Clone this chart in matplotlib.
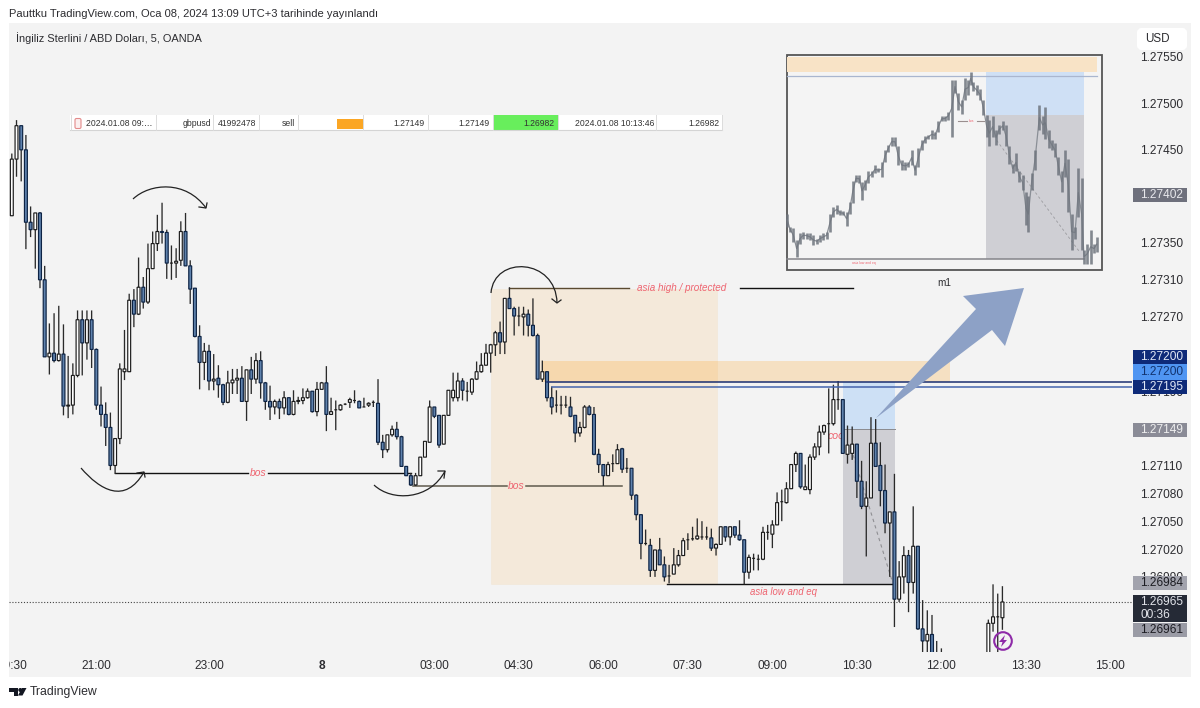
import matplotlib
matplotlib.use("Agg")
import matplotlib.pyplot as plt
from matplotlib.patches import Rectangle, FancyBboxPatch, Polygon, Circle, PathPatch
from matplotlib.path import Path

plt.rcParams["font.family"] = ["Liberation Sans", "DejaVu Sans"]

# 5 min candles, points above 1.27000 (1 point = 0.00001)
opens = [379,440,476,450,372,364,382,310,227,231,
         223,230,174,175,207,267,242,267,235,175,
         165,151,110,139,211,211,288,273,302,286,
         322,349,362,361,328,328,331,362,325,301,
         249,221,233,201,204,197,178,199,202,204,
         179,213,203,223,199,179,173,179,172,183,
         165,179,180,183,190,168,192,199,165,170,
         170,176,178,180,179,173,175,178,177,135,
         127,143,149,141,109,99,89,99,119,135,
         173,164,133,164,183,183,201,190,189,203,
         211,218,231,240,253,243,290,279,271,270,
         273,261,250,203,211,183,175,175,175,173,
         164,145,151,173,165,122,111,99,112,112,
         128,107,107,78,57,26,24,-3,19,3,
         -9,-7,3,13,30,31,31,33,33,32,
         21,25,44,33,44,35,30,-5,10,9,
         9,38,36,46,71,70,85,111,123,84,
         84,119,130,146,155,155,181,181,122,123,
         133,93,66,75,134,110,83,48,60,-34,
         -10,13,-16,23,-66,-79,-72,-95,-96,-105,
         -110,-112,-115,-118,-120,-118,-115,-108,-100,-60,-53,-54]
highs = [446,482,476,466,389,382,383,325,263,274,
         282,262,228,220,277,277,277,277,236,195,
         178,167,139,220,256,295,300,334,313,349,
         362,380,393,364,347,344,373,382,331,301,
         261,242,240,230,218,198,212,214,214,217,
         213,227,231,233,200,196,181,182,190,183,
         191,184,193,193,190,200,200,217,183,180,
         176,177,183,191,180,183,178,180,203,143,
         143,153,157,142,109,102,102,119,136,180,
         173,164,164,191,210,210,204,200,204,222,
         231,241,241,255,265,290,302,281,281,281,
         278,290,252,223,211,195,191,185,185,184,
         164,157,175,175,173,128,111,114,122,133,
         129,118,107,79,57,41,31,19,32,12,
         3,21,19,32,37,44,53,50,44,42,
         26,44,44,44,44,51,30,14,15,14,
         44,46,51,81,84,92,111,125,123,111,
         122,134,153,154,193,197,201,181,153,152,
         133,115,93,162,160,135,111,60,101,7,
         23,19,66,23,-35,-46,-51,-79,-87,-100,
         -104,-106,-108,-112,-114,-112,-108,-102,-56,-18,-28,-20]
lows = [379,421,416,343,356,322,301,227,208,221,
        222,164,161,165,205,207,224,215,170,152,
        131,105,101,133,202,211,259,272,279,284,
        322,341,349,311,310,312,325,325,284,248,
        192,202,191,191,183,175,177,187,187,179,
        158,187,198,182,170,159,165,160,165,164,
        164,176,176,182,167,163,192,147,165,148,
        169,175,172,177,172,173,173,173,132,118,
        124,141,138,109,99,88,88,99,119,135,
        161,129,133,164,179,179,180,179,186,202,
        210,218,210,228,230,230,279,250,260,250,
        249,249,203,200,179,165,167,165,172,162,
        135,141,150,164,121,102,88,99,103,112,
        102,102,73,51,9,24,-10,-10,3,-15,
        -17,-7,1,13,19,29,30,30,30,18,
        13,25,28,24,32,29,-18,-12,-3,-3,
        8,30,21,46,50,69,85,103,85,84,
        79,116,121,143,123,153,170,123,112,116,
        75,63,12,75,109,66,37,-10,-64,-37,
        -28,-48,-28,-67,-95,-95,-110,-110,-110,-118,
        -122,-124,-126,-128,-130,-128,-126,-120,-110,-69,-95,-67]
closes = [440,476,450,372,364,382,310,227,231,223,
          230,174,175,207,267,242,267,235,175,165,
          151,110,139,214,214,288,273,302,286,322,
          349,362,361,328,328,330,362,325,300,249,
          221,233,201,203,197,178,199,202,204,179,
          213,203,223,199,179,173,179,172,183,165,
          179,180,183,190,168,192,199,165,168,170,
          175,176,181,180,172,173,177,178,135,127,
          143,149,141,109,99,89,99,119,136,173,
          163,132,164,191,191,201,191,190,203,211,
          218,231,240,253,243,290,279,271,271,273,
          261,250,203,211,183,173,175,175,175,163,
          145,151,173,165,122,111,99,111,112,127,
          106,107,78,57,26,26,-3,19,3,-10,
          -9,3,13,29,30,31,34,33,33,21,
          25,44,33,44,35,30,-5,11,10,9,
          38,38,46,70,71,85,111,123,87,87,
          119,130,146,153,155,181,181,123,132,133,
          93,66,75,134,109,83,48,60,-34,-10,
          13,-16,23,-66,-79,-72,-95,-96,-97,-110,
          -112,-115,-118,-120,-118,-115,-108,-100,-60,-53,-53,-37]

# m1 picture in the corner: bar position, high, low
m1_times = [22,30,40,50,60,70,80,90,100,110,120,130,140,150,160,170,180,190,200,210,
            218,228,238,246,255,265,275,285,295,305,315,325,335,345,355,365,375,385,395,405,
            415,425,435,445,455,465,475,485,495,505,515,525,535,545,555,565,572,580,590,600,
            610,620,628,638,648,658,668,678,688,698,708,718,728,738,745,755,765,778,788,796,
            806,816,825,835,845,855,865,875,885,895,905,912,922,932,942,950]
m1_highs = [35,20,18,4,12,14,13,12,10,6,10,12,14,35,43,45,39,38,37,49,
            73,80,80,72,74,84,84,91,88,95,109,115,124,124,113,97,95,95,109,91,
            111,120,125,126,132,130,142,148,148,153,190,190,175,167,192,190,200,188,184,180,
            167,149,144,148,132,138,142,138,113,93,105,84,80,60,55,82,109,161,148,159,
            132,120,117,101,84,109,99,35,20,88,76,-7,0,16,0,8]
m1_lows = [20,14,2,-15,0,6,6,4,-1,0,2,4,6,14,31,35,33,33,21,35,
           47,72,71,51,62,71,78,82,83,78,95,107,113,113,91,86,86,89,91,80,
           89,109,117,122,122,122,130,142,143,144,124,175,155,151,167,173,184,177,173,167,
           149,124,113,124,115,128,132,113,93,82,84,72,62,22,14,62,86,132,128,122,
           111,109,101,80,60,78,37,-7,6,31,-7,-23,-23,-23,-11,-9]

# price scale labels and time labels
price_ticks = [1.27550, 1.27500, 1.27450, 1.27350, 1.27310, 1.27270, 1.27190,
               1.27110, 1.27080, 1.27050, 1.27020, 1.26990, 1.26930]
time_pos = [0, 18, 42, 66, 90, 108, 126, 144, 162, 180, 198, 216, 234]
time_labels = ["19:30", "21:00", "23:00", "8", "03:00", "04:30", "06:00", "07:30",
               "09:00", "10:30", "12:00", "13:30", "15:00"]

# levels
asia_high = 301.6
asia_low = -17.5
bos_first = 102
bos_second = 88
zone_top = 222.5
zone_bottom = 200
line_200 = 200
line_195 = 195
entry = 149
target = -17.5
last_price = -37

# table row text
row_cells = ["gbpusd", "41992478", "sell", "1.27149", "1.27149", "1.26982",
             "2024.01.08 10:13:46", "1.26982"]

BG = "#f3f3f3"
RED = "#ee6470"

W, H = 1200.0, 708.0
fig = plt.figure(figsize=(12, 7.08), dpi=100, facecolor="white")
fig.add_artist(Rectangle((9 / W, 1 - 677 / H), 1182 / W, 654 / H, transform=fig.transFigure,
                         facecolor=BG, edgecolor="none", zorder=-1))

# main chart
ax = fig.add_axes([9 / W, 1 - 652 / H, 1123 / W, 629 / H], facecolor="none")
ax.set_xlim(-0.6, 238.6)
ax.set_ylim(1.27 - 90.9e-5, 1.27 + 586.6e-5)
for s in ax.spines.values():
    s.set_visible(False)


def pr(v):
    return 1.27 + v * 1e-5


xs = list(range(len(opens)))
wicks = ax.vlines(xs, [pr(v) for v in lows], [pr(v) for v in highs],
                  colors="#2a2a2a", linewidth=0.95, zorder=5)
wicks.set_snap(False)
for i in xs:
    up = closes[i] >= opens[i]
    bottom = pr(min(opens[i], closes[i]))
    height = abs(closes[i] - opens[i]) * 1e-5
    bar = ax.bar(i, height, bottom=bottom, width=0.62,
                 color="#ffffff" if up else "#5f82ad",
                 edgecolor="#1c1c1c" if up else "#0d2344", linewidth=0.85, zorder=6)
    bar[0].set_snap(False)

# boxes
ax.add_patch(Rectangle((102, pr(asia_low)), 48.2, (asia_high - 1.6 - asia_low) * 1e-5,
                       facecolor="#ff9800", alpha=0.10, edgecolor="#e8a860", linewidth=0.5, zorder=2))
ax.add_patch(Rectangle((113, pr(zone_bottom)), 86.8, (zone_top - zone_bottom) * 1e-5,
                       facecolor="#ff9800", alpha=0.2, edgecolor="none", zorder=2))
ax.add_patch(Rectangle((177, pr(entry)), 11.1, (line_200 - entry) * 1e-5,
                       facecolor="#cde0f5", edgecolor="none", zorder=3))
ax.add_patch(Rectangle((177, pr(target)), 11.1, (entry - target) * 1e-5,
                       facecolor="#cfcfd4", edgecolor="none", zorder=3))
ax.plot([177, 188.1], [pr(entry), pr(entry)], color="#8a8a8e", lw=0.7, zorder=3)
ax.plot([178.8, 187.6], [pr(128), pr(-16)], color="#8f8f93", lw=0.8, ls=(0, (3, 3)), zorder=4)
ax.text(173.8, pr(142), "coo", color=RED, fontsize=7.6, style="italic", va="center", zorder=2.5)

ax.plot([114, 238.6], [pr(line_200), pr(line_200)], color="#1b2f70", lw=1.1, zorder=7)
ax.plot([115, 238.6], [pr(line_195), pr(line_195)], color="#4464ad", lw=1.1, zorder=7)
ax.plot([-0.6, 238.6], [pr(last_price), pr(last_price)], color="#444444", lw=0.8, ls=(0, (1, 1.6)), zorder=4)

# structure lines
ax.plot([22, 50.3], [pr(bos_first)] * 2, color="#111111", lw=1, zorder=4)
ax.plot([54.6, 85], [pr(bos_first)] * 2, color="#111111", lw=1, zorder=4)
ax.text(52.4, pr(bos_first), "bos", color=RED, fontsize=7.4, style="italic", ha="center", va="center", zorder=8)
ax.plot([85.5, 105.5], [pr(bos_second)] * 2, color="#5f5a4d", lw=1.1, zorder=4)
ax.plot([109.5, 130], [pr(bos_second)] * 2, color="#5f5a4d", lw=1.1, zorder=4)
ax.text(107.5, pr(bos_second), "bos", color=RED, fontsize=7.4, style="italic", ha="center", va="center", zorder=8)
ax.plot([106, 131.5], [pr(asia_high)] * 2, color="#5a4a30", lw=1, zorder=4)
ax.plot([155.2, 179.2], [pr(asia_high)] * 2, color="#111111", lw=1, zorder=4)
ax.text(142.6, pr(asia_high), "asia high / protected", color=RED, fontsize=7.1, style="italic",
        ha="center", va="center", zorder=8)
ax.plot([139.5, 187.7], [pr(asia_low)] * 2, color="#111111", lw=1, zorder=4)
ax.text(164.3, pr(-26), "asia low and eq", color=RED, fontsize=6.9, style="italic",
        ha="center", va="center", zorder=8)

# axes labels
ax.yaxis.tick_right()
ax.set_yticks(price_ticks)
ax.set_yticklabels([f"{v:.5f}" for v in price_ticks])
ax.tick_params(axis="y", length=0, pad=6, labelsize=8.6, labelcolor="#2c2c30")
ax.set_xticks(time_pos)
ax.set_xticklabels(time_labels)
ax.tick_params(axis="x", length=0, pad=6, labelsize=8.6, labelcolor="#2c2c30")
ax.get_xticklabels()[3].set_fontweight("bold")

# m1 picture
ins = fig.add_axes([780 / W, 1 - 285 / H, 325 / W, 235 / H], facecolor="none", zorder=3)
ins.set_xlim(0, 975)
ins.set_ylim(225 - 0.387 * 705, 225)
ins.axis("off")
ins.add_patch(Rectangle((20, -30), 945, 249, facecolor="#f4f4f4", edgecolor="#555555", linewidth=1.3, zorder=1))
ins.add_patch(Rectangle((22, 200), 930, 17, facecolor="#f8e3c6", edgecolor="none", zorder=2))
ins.add_patch(Rectangle((618, 149), 294, 51, facecolor="#cfe0f5", edgecolor="none", zorder=2))
ins.add_patch(Rectangle((618, -18), 294, 167, facecolor="#cfcfd4", edgecolor="none", zorder=2))
ins.plot([22, 952], [195, 195], color="#a9b6cf", lw=0.9, zorder=3)
ins.plot([22, 912], [-18, -18], color="#85858a", lw=1.1, zorder=3)
ins.plot([650, 900], [120, -10], color="#9a9a9e", lw=0.6, ls=(0, (3, 3)), zorder=3)
ins.plot([535, 560], [143, 143], color="#9a8f8f", lw=0.8, zorder=3)
ins.plot([590, 612], [143, 143], color="#9a8f8f", lw=0.8, zorder=3)
ins.text(574, 143, "bos", color=RED, fontsize=2.4, ha="center", va="center", zorder=4)
ins.text(252, -22.5, "asia low and eq", color=RED, fontsize=2.4, ha="center", va="center", zorder=4)
m1_mids = [(a + b) / 2 for a, b in zip(m1_highs, m1_lows)]
ins.plot(m1_times, m1_mids, color="#8a8f96", lw=0.9, zorder=4)
ins.vlines(m1_times, m1_lows, m1_highs, colors="#6f757e", linewidth=1.9, alpha=0.85, zorder=5)
ins.text(492, -46, "m1", color="#2c2c30", fontsize=7.2, ha="center", va="center")

# everything drawn in picture pixels on top
top = fig.add_axes([0, 0, 1, 1], facecolor="none", zorder=5)
top.set_xlim(0, W)
top.set_ylim(H, 0)
top.axis("off")

top.add_patch(Polygon([(876, 418), (976, 309), (963, 296), (1024, 288), (1005, 346), (992, 330)],
                      closed=True, facecolor="#8da1c6", edgecolor="none"))


def curve(pts, head):
    codes = [Path.MOVETO, Path.CURVE4, Path.CURVE4, Path.CURVE4]
    top.add_patch(PathPatch(Path(pts, codes), facecolor="none", edgecolor="#222222", lw=0.9))
    end = pts[-1]
    top.plot([head[0][0], end[0], head[1][0]], [head[0][1], end[1], head[1][1]], color="#222222", lw=0.9)


curve([(133, 199), (150, 183), (186, 180), (206, 208)], [(199, 207), (207, 203)])
curve([(81, 468), (100, 490), (125, 505), (144, 472)], [(137, 473), (145, 477)])
curve([(374, 485), (392, 502), (430, 500), (445, 471)], [(438, 471), (444, 478)])
curve([(491, 293), (494, 255), (556, 258), (557, 303)], [(552, 299), (561, 300)])

# purple alert
top.add_patch(Circle((1003, 641), 8.8, facecolor="none", edgecolor="#8e2aa8", lw=1.5))
top.add_patch(Polygon([(1005, 635), (999, 642), (1002.5, 642), (1001, 647), (1007, 640), (1003.5, 640)],
                      closed=True, facecolor="#8e2aa8", edgecolor="none"))

# header, footer
top.text(9, 14, "Pauttku TradingView.com, Oca 08, 2024 13:09 UTC+3 tarihinde yayınlandı",
         color="#2c2c30", fontsize=8.03, va="center")
top.text(16, 38, "İngiliz Sterlini / ABD Doları, 5, OANDA", color="#2c2c30", fontsize=7.95, va="center")
top.add_patch(Rectangle((0, 600), 9, 108, facecolor="white", edgecolor="none", zorder=9))
top.add_patch(Polygon([(9, 688), (18, 688), (18, 695.5), (14, 695.5), (14, 692), (9, 692)],
                      closed=True, facecolor="#131722", edgecolor="none"))
top.add_patch(Circle((20.3, 690), 2, facecolor="#131722", edgecolor="none"))
top.add_patch(Polygon([(22, 688), (26.5, 688), (22.5, 695.5), (18, 695.5)],
                      closed=True, facecolor="#131722", edgecolor="none"))
top.text(30, 692, "TradingView", color="#2c2c30", fontsize=8.8, va="center")

# USD button
top.add_patch(FancyBboxPatch((1139, 30), 46, 18, boxstyle="round,pad=0,rounding_size=3",
                             mutation_aspect=1, facecolor="white", edgecolor="white", lw=3))
top.text(1145, 39, "USD", color="#2c2c30", fontsize=8.4, va="center")


def price_box(y0, y1, lines, face, color):
    top.add_patch(Rectangle((1133, y0), 54, y1 - y0, facecolor=face, edgecolor="none"))
    step = (y1 - y0) / len(lines)
    for n, t in enumerate(lines):
        top.text(1140.5, y0 + step * (n + 0.5), t, color=color, fontsize=8.6, va="center")


price_box(188, 202, ["1.27402"], "#6e707c", "#e8e8ec")
price_box(350, 364, ["1.27200"], "#0e2a78", "#dfe6f5")
price_box(364, 380, ["1.27200"], "#4f95f2", "#12336e")
price_box(380, 394, ["1.27195"], "#0e2a78", "#dfe6f5")
price_box(423, 437, ["1.27149"], "#8a8b96", "#eeeeee")
price_box(576, 590, ["1.26984"], "#a2a3ad", "#1c1c22")
price_box(595, 622, ["1.26965", "00:36"], "#252a36", "#e2e4ea")
price_box(623, 637, ["1.26961"], "#9a9ba5", "#1c1c22")

# table row
top.add_patch(Rectangle((70, 115), 652, 15, facecolor="white", edgecolor="none"))
top.plot([70, 722], [130.3, 130.3], color="#d4d4d4", lw=0.8)
for x in [70.5, 155.5, 213, 259, 298, 363, 428, 493, 558, 656, 722]:
    top.plot([x, x], [115, 130], color="#dcdcdc", lw=0.7)
top.add_patch(Rectangle((493, 115), 65, 15, facecolor="#68ee5c", edgecolor="none"))
top.add_patch(Rectangle((337, 119), 27, 10, facecolor="#fba624", edgecolor="none"))
top.add_patch(FancyBboxPatch((75, 118.5), 6, 10, boxstyle="round,pad=0,rounding_size=1.5",
                             facecolor="#fbeeee", edgecolor="#e38a8a", lw=0.8))
top.text(86, 123.5, "2024.01.08 09:…", color="#333333", fontsize=6.2, va="center")
for txt, x in zip(row_cells, [211, 256, 295, 425, 490, 555, 654, 720]):
    top.text(x, 123.5, txt, color="#333333", fontsize=6.2, va="center", ha="right")

fig.savefig("out.png", dpi=100)
